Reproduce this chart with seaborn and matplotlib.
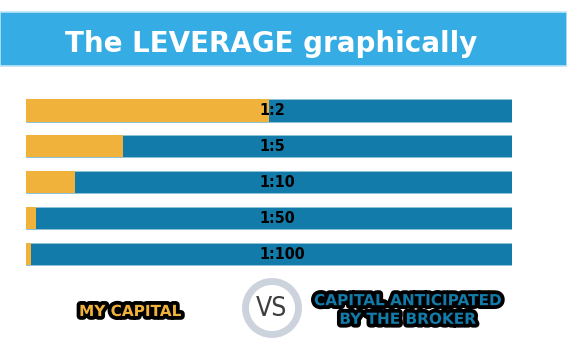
import matplotlib
matplotlib.use("Agg")
import matplotlib.pyplot as plt
import matplotlib.patheffects as pe
from matplotlib.patches import Rectangle, Circle
import seaborn as sns
import pandas as pd

# Leverage ratios and the share of the position funded by the trader (%)
ratios = ["1:2", "1:5", "1:10", "1:50", "1:100"]
my_capital = [50, 20, 10, 2, 1]
total_position = [100, 100, 100, 100, 100]

title = "The LEVERAGE graphically"
legend_mine = "MY CAPITAL"
legend_broker = "CAPITAL ANTICIPATED\nBY THE BROKER"

ORANGE = "#F0B23A"
BLUE = "#127BAA"
BANNER = "#35ACE3"

sns.set_theme(style="white")
plt.rcParams["font.family"] = ["DejaVu Sans"]

df = pd.DataFrame({"ratio": ratios, "mine": my_capital, "total": total_position})

W, H = 567, 340
fig = plt.figure(figsize=(W / 100, H / 100), dpi=100)
fig.patch.set_facecolor("white")


def fy(py):
    return 1 - py / H


# Title banner
fig.patches.append(Rectangle((0, fy(66)), 1, 54 / H, transform=fig.transFigure,
                             facecolor=BANNER, edgecolor="#BFE4F6", linewidth=1.2, zorder=0))
fig.text(271.5 / W, fy(52), title, ha="center", va="baseline", color="white",
         fontsize=20, fontweight="bold")

ax = fig.add_axes([26 / W, 0.2, (512 - 26) / W, 0.528])
sns.barplot(data=df, x="total", y="ratio", color=BLUE, width=0.62, ax=ax,
            saturation=1, edgecolor="#8FC3DB", linewidth=0.6)
sns.barplot(data=df, x="mine", y="ratio", color=ORANGE, width=0.62, ax=ax,
            saturation=1, linewidth=0)
ax.set_xlim(0, 100)
ax.set_ylim(4.5, -0.5)
ax.axis("off")

for i, r in enumerate(ratios):
    ax.text(48.0, i, r, ha="left", va="center", fontsize=11.5, fontweight="bold",
            color="black", fontstretch="condensed")

# Legend captions
stroke = [pe.withStroke(linewidth=5.5, foreground="black")]
fig.text(130 / W, fy(316), legend_mine, ha="center", va="baseline", color=ORANGE,
         fontsize=11, fontweight="bold", path_effects=stroke)
fig.text(407.5 / W, fy(310), legend_broker, ha="center", va="center", color=BLUE,
         fontsize=11, fontweight="bold", linespacing=1.3, path_effects=stroke)

# VS badge
vs_ax = fig.add_axes([(272 - 32) / W, fy(308 + 32), 64 / W, 64 / H])
vs_ax.set_xlim(-32, 32)
vs_ax.set_ylim(-32, 32)
vs_ax.set_aspect("equal")
vs_ax.axis("off")
vs_ax.add_patch(Circle((0, 0), 26.5, facecolor="white", edgecolor="#CDD3DD", linewidth=5))
vs_ax.text(0, -0.5, "VS", ha="center", va="center", fontsize=19, color="#3E3E3E",
           fontstretch="condensed")

fig.savefig("out.png", dpi=100)
